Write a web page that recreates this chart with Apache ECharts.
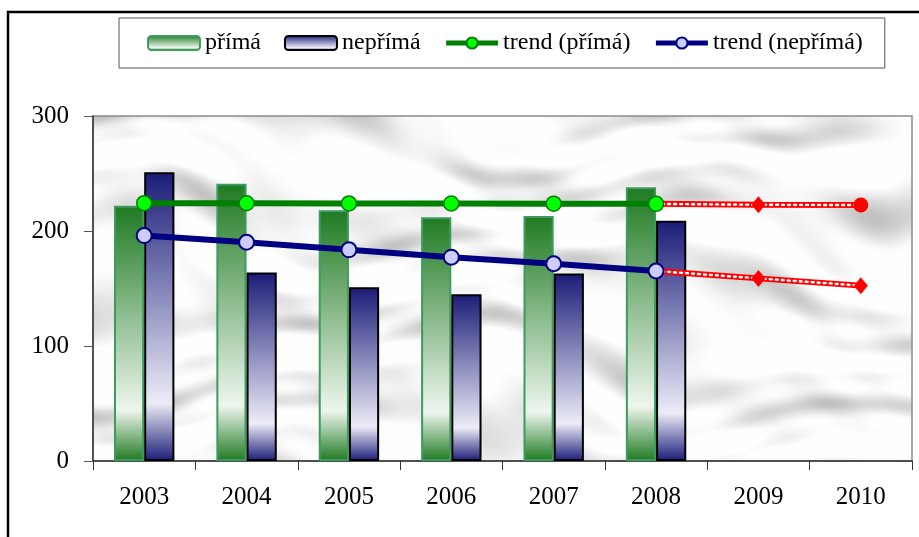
<!DOCTYPE html>
<html>
<head>
<meta charset="utf-8">
<script src="https://cdn.jsdelivr.net/npm/echarts@6/dist/echarts.min.js"></script>
<style>
  html, body { margin: 0; padding: 0; background: #fff; }
  #chart { width: 919px; height: 537px; }
</style>
</head>
<body>
<div id="chart"></div>
<script>
// Years on the category axis
const years = ['2003', '2004', '2005', '2006', '2007', '2008', '2009', '2010'];

// Measured values (bars)
const prima = [222, 241, 218, 212, 213, 238];
const neprima = [251, 164, 151, 145, 163, 209];

// Linear trends over the measured years
const trendPrima = [224.2, 224.1, 224, 223.9, 223.8, 223.6];
const trendNeprima = [196, 190.2, 183.6, 177.2, 171.5, 165.2];

// Extrapolation 2008 -> 2010
const forecastPrima = [null, null, null, null, null, 223.6, 222.8, 222.6];
const forecastNeprima = [null, null, null, null, null, 165.2, 158.8, 152.5];

const yTicks = [0, 100, 200, 300];

const GRID = { left: 93, top: 116, width: 819, height: 345 };

// Grey marble-like backdrop of the plot area, built from layered sine waves
function makeMarble(w, h) {
  const c = document.createElement('canvas');
  c.width = w; c.height = h;
  const ctx = c.getContext('2d');
  const img = ctx.createImageData(w, h);
  for (let y = 0; y < h; y++) {
    for (let x = 0; x < w; x++) {
      const warp = 16 * Math.sin(x * 0.009 + y * 0.017) + 10 * Math.sin(x * 0.023 - y * 0.012 + 1.3);
      const yy = y + warp - x * 0.07;
      let v = 0.55 * Math.sin(yy * 0.07 + 2 * Math.sin(x * 0.006 + 0.4))
            + 0.35 * Math.sin(yy * 0.15 + x * 0.004 + 3 * Math.sin(x * 0.011 + y * 0.018))
            + 0.28 * Math.sin(x * 0.03 + yy * 0.045 + 0.7)
            + 0.18 * Math.sin(x * 0.07 - yy * 0.09 + 2.1);
      v = Math.max(0, v + 0.2);
      let g = 254 - 60 * Math.pow(v / 1.5, 1.2);
      g = Math.max(192, Math.min(254, g));
      const i = (y * w + x) * 4;
      img.data[i] = img.data[i + 1] = img.data[i + 2] = g;
      img.data[i + 3] = 255;
    }
  }
  ctx.putImageData(img, 0, 0);
  return c;
}

function vGrad(edge, mid) {
  return new echarts.graphic.LinearGradient(0, 0, 0, 1, [
    { offset: 0, color: edge },
    { offset: 0.8, color: mid },
    { offset: 1, color: edge }
  ]);
}

const serifFont = '"Liberation Serif", "Times New Roman", serif';

const chart = echarts.init(document.getElementById('chart'), null, { renderer: 'canvas' });

const forecastSymbol = (v, p) => (p.dataIndex === 7 ? 'circle' : 'diamond');

chart.setOption({
  animation: false,
  backgroundColor: '#ffffff',
  textStyle: { fontFamily: serifFont, color: '#000' },
  graphic: [
    {
      type: 'image', left: GRID.left, top: GRID.top, z: -5,
      style: { image: makeMarble(GRID.width, GRID.height), width: GRID.width, height: GRID.height }
    },
    {
      type: 'rect', z: 100, silent: true,
      shape: { x: 8, y: 12, width: 1000, height: 1000 },
      style: { fill: 'none', stroke: '#000', lineWidth: 2.5 }
    }
  ],
  legend: {
    data: ['přímá', 'nepřímá', 'trend (přímá)', 'trend (nepřímá)'],
    left: 119, top: 18,
    padding: [13, 22, 13, 28],
    itemGap: 23,
    itemWidth: 52, itemHeight: 14,
    borderColor: '#555', borderWidth: 1,
    lineStyle: { width: 5 },
    textStyle: { fontFamily: serifFont, fontSize: 24, color: '#000' }
  },
  grid: {
    left: GRID.left, top: GRID.top, width: GRID.width, height: GRID.height,
    show: true, borderColor: '#8a8a8a', borderWidth: 1.5, backgroundColor: 'transparent'
  },
  xAxis: {
    type: 'category',
    data: years,
    boundaryGap: true,
    axisLine: { lineStyle: { color: '#333', width: 1.5 } },
    axisTick: { show: true, inside: false, length: 9, lineStyle: { color: '#333' } },
    axisLabel: { fontFamily: serifFont, fontSize: 25, color: '#000', margin: 24 }
  },
  yAxis: {
    type: 'value',
    min: yTicks[0], max: yTicks[yTicks.length - 1], interval: 100,
    axisLine: { show: true, lineStyle: { color: '#333', width: 1.5 } },
    axisTick: { show: true, inside: false, length: 9, lineStyle: { color: '#555' } },
    splitLine: { show: false },
    axisLabel: { fontFamily: serifFont, fontSize: 25, color: '#000', margin: 24 }
  },
  series: [
    {
      name: 'přímá', type: 'bar', data: prima,
      barGap: '0%', barCategoryGap: '41%',
      itemStyle: { color: vGrad('#1f7a22', '#eef6ee'), borderColor: '#3d9b60', borderWidth: 2 }
    },
    {
      name: 'nepřímá', type: 'bar', data: neprima,
      itemStyle: { color: vGrad('#1b1b78', '#ececf8'), borderColor: '#000', borderWidth: 2 }
    },
    // red extrapolated trends: solid red stroke with a dotted white core
    {
      name: 'forecastPrima', type: 'line', data: forecastPrima, z: 3,
      lineStyle: { color: '#ff0000', width: 6 },
      symbol: forecastSymbol,
      symbolSize: (v, p) => (p.dataIndex === 5 ? 0 : (p.dataIndex === 7 ? 15 : [14, 17])),
      itemStyle: { color: '#ff0000', borderColor: '#ff0000', borderWidth: 0 }
    },
    {
      name: 'forecastPrimaDots', type: 'line', data: forecastPrima, z: 3,
      lineStyle: { color: '#ffffff', width: 2.4, type: [2, 4], cap: 'round' },
      symbol: 'none', silent: true
    },
    {
      name: 'forecastNeprima', type: 'line', data: forecastNeprima, z: 3,
      lineStyle: { color: '#ff0000', width: 6 },
      symbol: 'diamond',
      symbolSize: (v, p) => (p.dataIndex === 5 ? 0 : [14, 17]),
      itemStyle: { color: '#ff0000', borderColor: '#ff0000', borderWidth: 0 }
    },
    {
      name: 'forecastNeprimaDots', type: 'line', data: forecastNeprima, z: 3,
      lineStyle: { color: '#ffffff', width: 2.4, type: [2, 4], cap: 'round' },
      symbol: 'none', silent: true
    },
    {
      name: 'trend (přímá)', type: 'line', data: trendPrima, z: 4,
      lineStyle: { color: '#008000', width: 6 },
      symbol: 'circle', symbolSize: 15, showAllSymbol: true,
      itemStyle: { color: '#00ff00', borderColor: '#0a7a0a', borderWidth: 1.5 }
    },
    {
      name: 'trend (nepřímá)', type: 'line', data: trendNeprima, z: 4,
      lineStyle: { color: '#000080', width: 6 },
      symbol: 'circle', symbolSize: 15, showAllSymbol: true,
      itemStyle: { color: '#ccccff', borderColor: '#000080', borderWidth: 2 }
    }
  ]
});
</script>
</body>
</html>
